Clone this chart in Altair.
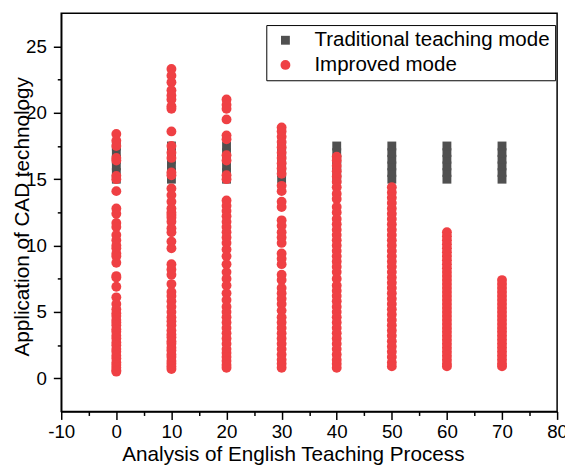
import altair as alt
import pandas as pd

# x positions (Analysis of English Teaching Process)
x_levels = [0, 10, 20, 30, 40, 50, 60, 70]

# Traditional teaching mode: stacked square markers at each x
trad_values = [15.0, 15.5, 16.0, 16.5, 17.0, 17.5]

# Improved mode values read per column
imp_0 = [18.4, 17.9, 17.5, 16.6, 16.4, 15.25, 15.0, 14.1, 12.8, 12.4, 11.7, 11.4, 10.8, 10.4,
         10.0, 9.8, 9.4, 9.2, 8.7, 7.7, 7.6, 6.9, 6.1, 5.6, 5.2, 4.9, 4.7, 4.4, 4.2, 4.0, 3.7,
         3.5, 3.2, 3.0, 2.7, 2.5, 2.2, 2.0, 1.7, 1.5, 1.2, 1.0, 0.8, 0.6, 0.5]
imp_10 = [23.3, 22.8, 22.3, 21.7, 21.3, 21.0, 20.5, 20.3, 18.6, 17.5, 17.0, 16.6, 15.5, 15.3,
          14.3, 13.8, 13.3, 12.8, 12.5, 12.3, 12.1, 11.8, 11.3, 11.0, 10.3, 9.8, 8.6, 8.2, 7.8,
          7.1, 6.5, 6.2, 5.8, 5.4, 5.0, 4.6, 4.3, 4.0, 3.6, 3.3, 3.1, 2.8, 2.6, 2.3, 2.1, 1.8,
          1.6, 1.3, 1.1, 0.9, 0.7]
imp_20 = [21.0, 20.6, 20.3, 19.5, 18.3, 18.0, 16.8, 16.4, 15.3, 15.0, 13.4, 13.0, 12.6, 12.2,
          11.8, 11.4, 11.0, 10.6, 10.2, 9.7, 9.2, 8.6, 8.0, 7.5, 7.0, 6.4, 5.9, 5.4, 5.0, 4.6,
          4.2, 3.8, 3.4, 3.0, 2.6, 2.2, 1.9, 1.6, 1.3, 1.0, 0.8]
imp_30 = [18.9, 18.6, 18.2, 17.8, 17.4, 17.0, 16.6, 16.2, 15.8, 15.4, 14.5, 14.1, 13.3, 12.9,
          11.9, 11.5, 11.0, 10.6, 10.2, 9.4, 9.0, 8.6, 7.8, 7.4, 6.8, 6.4, 6.0, 5.6, 5.1, 4.6,
          4.2, 3.8, 3.4, 3.0, 2.6, 2.2, 1.8, 1.4, 1.1, 0.8]
imp_40 = [16.7, 16.4, 16.0, 15.6, 15.2, 14.8, 14.4, 13.9, 13.5, 12.9, 12.5, 12.0, 11.6, 11.2,
          10.8, 10.4, 10.0, 9.6, 9.2, 8.8, 8.4, 8.0, 7.5, 7.0, 6.6, 6.2, 5.8, 5.4, 5.0, 4.6,
          4.2, 3.8, 3.4, 3.0, 2.6, 2.2, 1.8, 1.4, 1.1, 0.8]
imp_50 = [14.4, 14.0, 13.6, 13.2, 12.8, 12.4, 12.0, 11.6, 11.2, 10.8, 10.4, 10.0, 9.6, 9.2,
          8.8, 8.4, 8.0, 7.6, 7.2, 6.8, 6.4, 6.0, 5.6, 5.2, 4.8, 4.4, 4.0, 3.6, 3.2, 2.8, 2.4,
          2.0, 1.6, 1.2, 0.9]
imp_60 = [11.0, 10.7, 10.4, 10.1, 9.8, 9.5, 9.2, 8.9, 8.6, 8.3, 8.0, 7.7, 7.4, 7.1, 6.8, 6.5,
          6.2, 5.9, 5.6, 5.3, 5.0, 4.7, 4.4, 4.1, 3.8, 3.5, 3.2, 2.9, 2.6, 2.3, 2.0, 1.7, 1.4,
          1.1, 0.9]
imp_70 = [7.4, 7.1, 6.8, 6.5, 6.2, 5.9, 5.6, 5.3, 5.0, 4.7, 4.4, 4.1, 3.8, 3.5, 3.2, 2.9, 2.6,
          2.3, 2.0, 1.7, 1.4, 1.1, 0.9]
imp_columns = [imp_0, imp_10, imp_20, imp_30, imp_40, imp_50, imp_60, imp_70]

series_names = ["Traditional teaching mode", "Improved mode"]
series_colors = ["#505050", "#EF4044"]
series_shapes = ["square", "circle"]

rows = []
for xv in x_levels:
    for v in trad_values:
        rows.append({"x": xv, "y": v, "mode": series_names[0]})
for xv, col in zip(x_levels, imp_columns):
    for v in col:
        rows.append({"x": xv, "y": v, "mode": series_names[1]})
df = pd.DataFrame(rows)

FONT = "Liberation Sans"

x_axis = alt.Axis(
    title="Analysis of English Teaching Process",
    values=list(range(-10, 81, 5)),
    labelExpr="datum.value % 10 === 0 ? '' + datum.value : ''",
    tickSize={"condition": {"test": "datum.value % 10 === 0", "value": 8}, "value": 4},
    labelFontSize=19, titleFontSize=21, labelPadding=3, titlePadding=3,
    titleX=235, grid=False, labelFlush=False,
)
y_axis = alt.Axis(
    title="Application of CAD technology",
    values=[0, 2.5, 5, 7.5, 10, 12.5, 15, 17.5, 20, 22.5, 25],
    labelExpr="datum.value % 5 === 0 ? '' + datum.value : ''",
    tickSize={"condition": {"test": "datum.value % 5 === 0", "value": 8}, "value": 4},
    labelFontSize=19, titleFontSize=21, labelPadding=7, titlePadding=-7,
    titleY=206, grid=False, labelFlush=False,
)

chart = alt.Chart(df).mark_point(filled=True, opacity=1, strokeWidth=0).encode(
    x=alt.X("x:Q", scale=alt.Scale(domain=[-10, 80], nice=False, zero=False), axis=x_axis),
    y=alt.Y("y:Q", scale=alt.Scale(domain=[-2.5, 27.5], nice=False, zero=False), axis=y_axis),
    color=alt.Color("mode:N", scale=alt.Scale(domain=series_names, range=series_colors),
                    legend=alt.Legend(orient="none", legendX=208, legendY=12, title=None,
                                      strokeColor="black", fillColor="white", padding=5,
                                      symbolOffset=4, labelOffset=19, labelFontSize=20.8,
                                      labelLimit=0, symbolSize=64, rowPadding=3,
                                      labelFont=FONT, labelColor="black",
                                      symbolStrokeWidth=0)),
    shape=alt.Shape("mode:N", scale=alt.Scale(domain=series_names, range=series_shapes),
                    legend=None),
    size=alt.Size("mode:N", scale=alt.Scale(domain=series_names, range=[81, 100]), legend=None),
).properties(
    width=503, height=404,
    autosize=alt.AutoSizeParams(type="none"),
    padding={"left": 54, "top": 2, "right": 8, "bottom": 55},
).configure_view(
    stroke="black", strokeWidth=1.5
).configure_axis(
    domainColor="black", domainWidth=1.5, tickColor="black", tickWidth=1.5,
    labelColor="black", titleColor="black", labelFont=FONT, titleFont=FONT,
    titleFontWeight="normal",
)

chart.save("out.html", embed_options={"renderer": "svg", "actions": False})
